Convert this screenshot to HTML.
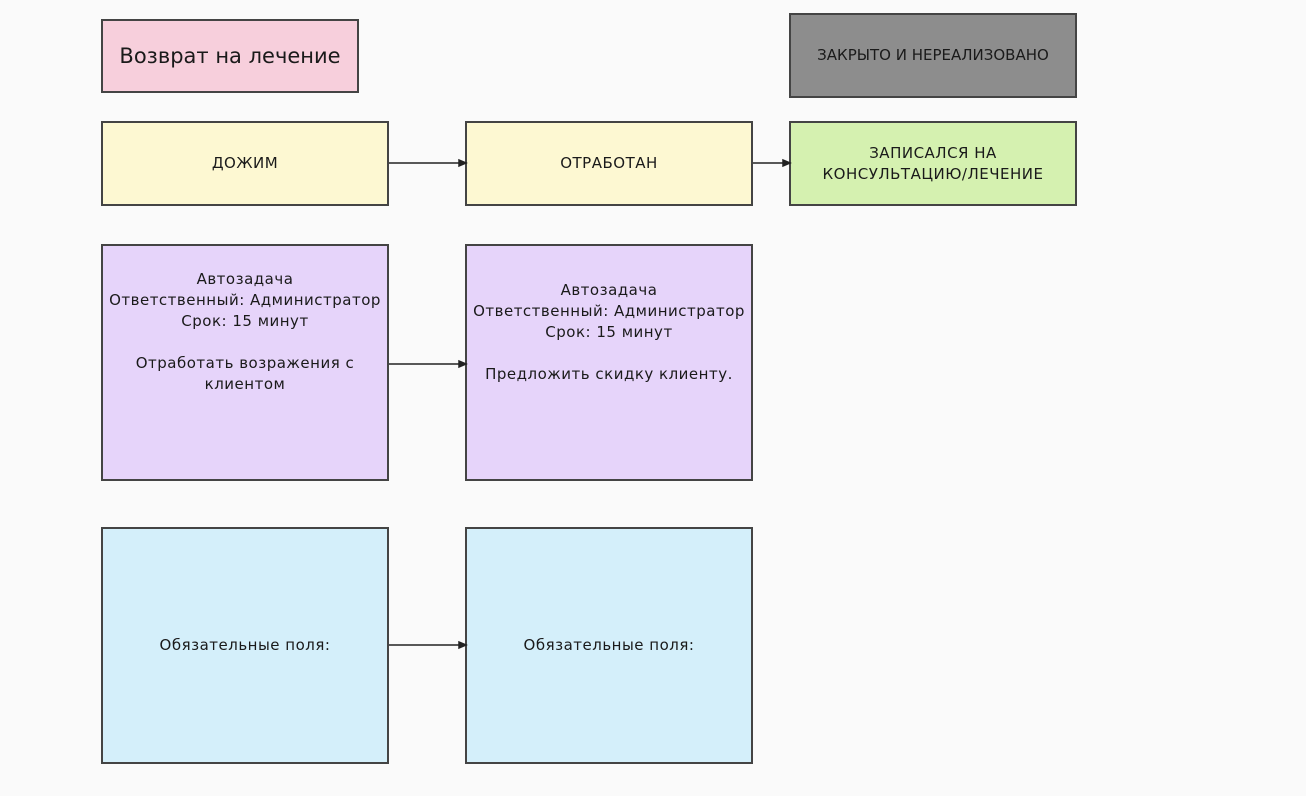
<!DOCTYPE html>
<html><head><meta charset="utf-8"><style>
body{margin:0;width:1306px;height:796px;background:#fafafa;position:relative;overflow:hidden;font-family:"DejaVu Sans","Liberation Sans",sans-serif;color:#1a1a1a}
.b{position:absolute;box-sizing:border-box;border:2px solid #444;display:flex;align-items:center;justify-content:center;text-align:center;font-size:15px;line-height:21px;letter-spacing:0.5px;white-space:nowrap}
.y{background:#fdf8d2}.p{background:#e6d4fa}.c{background:#d4effa}
</style></head><body>
<div class="b" style="left:101px;top:19px;width:258px;height:74px;background:#f7cfdc;font-size:21px;letter-spacing:0">Возврат на лечение</div>
<div class="b" style="left:789px;top:13px;width:288px;height:85px;background:#8d8d8d;font-size:15px;letter-spacing:0">ЗАКРЫТО И НЕРЕАЛИЗОВАНО</div>
<div class="b y" style="left:101px;top:121px;width:288px;height:85px">ДОЖИМ</div>
<div class="b y" style="left:465px;top:121px;width:288px;height:85px">ОТРАБОТАН</div>
<div class="b" style="left:789px;top:121px;width:288px;height:85px;background:#d5f1b0">ЗАПИСАЛСЯ НА<br>КОНСУЛЬТАЦИЮ/ЛЕЧЕНИЕ</div>
<div class="b p" style="left:101px;top:244px;width:288px;height:237px;align-items:flex-start;padding-top:23px">Автозадача<br>Ответственный: Администратор<br>Срок: 15 минут<br><br>Отработать возражения с<br>клиентом</div>
<div class="b p" style="left:465px;top:244px;width:288px;height:237px;align-items:flex-start;padding-top:34px">Автозадача<br>Ответственный: Администратор<br>Срок: 15 минут<br><br>Предложить скидку клиенту.</div>
<div class="b c" style="left:101px;top:527px;width:288px;height:237px">Обязательные поля:</div>
<div class="b c" style="left:465px;top:527px;width:288px;height:237px">Обязательные поля:</div>
<svg width="1306" height="796" style="position:absolute;left:0;top:0">
<g stroke="#222" stroke-width="1.5" fill="#222">
<line x1="389" y1="163" x2="462" y2="163"/><path d="M466 163 L459 160 L459 166Z"/>
<line x1="753" y1="163" x2="786" y2="163"/><path d="M790 163 L783 160 L783 166Z"/>
<line x1="389" y1="364" x2="462" y2="364"/><path d="M466 364 L459 361 L459 367Z"/>
<line x1="389" y1="645" x2="462" y2="645"/><path d="M466 645 L459 642 L459 648Z"/>
</g></svg>
</body></html>
